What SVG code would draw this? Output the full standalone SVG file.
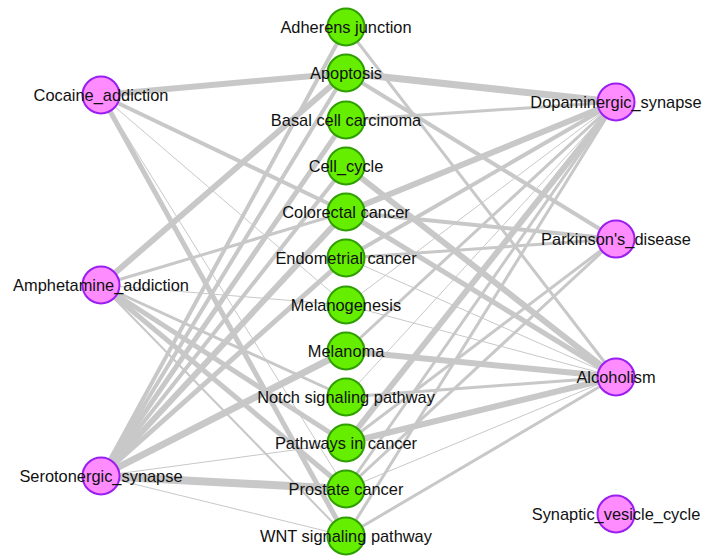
<svg xmlns="http://www.w3.org/2000/svg" width="704" height="556" viewBox="0 0 704 556">
<style>
.e{stroke:#c8c8c8;fill:none;stroke-linecap:butt}
.g circle{fill:#66ee00;stroke:#2f9e00;stroke-width:2}
.p circle{fill:#ff8cff;stroke:#9b1ef0;stroke-width:2}
text{font-family:"Liberation Sans",Arial,sans-serif;font-size:16.4px;fill:#111111;text-anchor:middle}
</style>
<rect width="704" height="556" fill="#ffffff"/>
<g id="edges">
<line class="e" x1="101" y1="95" x2="346" y2="73" stroke-width="6"/>
<line class="e" x1="101" y1="95" x2="346" y2="212" stroke-width="4"/>
<line class="e" x1="101" y1="95" x2="346" y2="305" stroke-width="1"/>
<line class="e" x1="101" y1="95" x2="346" y2="489" stroke-width="1"/>
<line class="e" x1="101" y1="95" x2="346" y2="536" stroke-width="5"/>
<line class="e" x1="101" y1="285" x2="346" y2="73" stroke-width="6"/>
<line class="e" x1="101" y1="285" x2="346" y2="212" stroke-width="3"/>
<line class="e" x1="101" y1="285" x2="346" y2="305" stroke-width="1"/>
<line class="e" x1="101" y1="285" x2="346" y2="397" stroke-width="3"/>
<line class="e" x1="101" y1="285" x2="346" y2="443" stroke-width="5"/>
<line class="e" x1="101" y1="285" x2="346" y2="489" stroke-width="5"/>
<line class="e" x1="101" y1="285" x2="346" y2="536" stroke-width="2"/>
<line class="e" x1="101" y1="476" x2="346" y2="27" stroke-width="4"/>
<line class="e" x1="101" y1="476" x2="346" y2="73" stroke-width="4"/>
<line class="e" x1="101" y1="476" x2="346" y2="120" stroke-width="5"/>
<line class="e" x1="101" y1="476" x2="346" y2="166" stroke-width="4"/>
<line class="e" x1="101" y1="476" x2="346" y2="212" stroke-width="6"/>
<line class="e" x1="101" y1="476" x2="346" y2="258" stroke-width="5"/>
<line class="e" x1="101" y1="476" x2="346" y2="351" stroke-width="7"/>
<line class="e" x1="101" y1="476" x2="346" y2="443" stroke-width="1"/>
<line class="e" x1="101" y1="476" x2="346" y2="489" stroke-width="8"/>
<line class="e" x1="101" y1="476" x2="346" y2="536" stroke-width="1"/>
<line class="e" x1="616" y1="102" x2="346" y2="73" stroke-width="7"/>
<line class="e" x1="616" y1="102" x2="346" y2="120" stroke-width="3"/>
<line class="e" x1="616" y1="102" x2="346" y2="212" stroke-width="6"/>
<line class="e" x1="616" y1="102" x2="346" y2="258" stroke-width="4"/>
<line class="e" x1="616" y1="102" x2="346" y2="305" stroke-width="1"/>
<line class="e" x1="616" y1="102" x2="346" y2="351" stroke-width="3"/>
<line class="e" x1="616" y1="102" x2="346" y2="397" stroke-width="1"/>
<line class="e" x1="616" y1="102" x2="346" y2="443" stroke-width="6"/>
<line class="e" x1="616" y1="102" x2="346" y2="489" stroke-width="3"/>
<line class="e" x1="616" y1="102" x2="346" y2="536" stroke-width="3"/>
<line class="e" x1="616" y1="239" x2="346" y2="73" stroke-width="4"/>
<line class="e" x1="616" y1="239" x2="346" y2="212" stroke-width="4"/>
<line class="e" x1="616" y1="239" x2="346" y2="258" stroke-width="3"/>
<line class="e" x1="616" y1="239" x2="346" y2="443" stroke-width="3"/>
<line class="e" x1="616" y1="239" x2="346" y2="489" stroke-width="3"/>
<line class="e" x1="616" y1="377" x2="346" y2="27" stroke-width="3"/>
<line class="e" x1="616" y1="377" x2="346" y2="166" stroke-width="6"/>
<line class="e" x1="616" y1="377" x2="346" y2="212" stroke-width="5"/>
<line class="e" x1="616" y1="377" x2="346" y2="258" stroke-width="1"/>
<line class="e" x1="616" y1="377" x2="346" y2="305" stroke-width="1"/>
<line class="e" x1="616" y1="377" x2="346" y2="351" stroke-width="6"/>
<line class="e" x1="616" y1="377" x2="346" y2="397" stroke-width="3"/>
<line class="e" x1="616" y1="377" x2="346" y2="443" stroke-width="6"/>
<line class="e" x1="616" y1="377" x2="346" y2="489" stroke-width="1"/>
<line class="e" x1="616" y1="377" x2="346" y2="536" stroke-width="3"/>
</g>
<g id="n-adherens" class="g"><circle cx="346" cy="27" r="18.5"/><text x="346" y="33">Adherens junction</text></g>
<g id="n-apoptosis" class="g"><circle cx="346" cy="73" r="18.5"/><text x="346" y="79">Apoptosis</text></g>
<g id="n-basal" class="g"><circle cx="346" cy="120" r="18.5"/><text x="346" y="126">Basal cell carcinoma</text></g>
<g id="n-cellcycle" class="g"><circle cx="346" cy="166" r="18.5"/><text x="346" y="172">Cell_cycle</text></g>
<g id="n-colorectal" class="g"><circle cx="346" cy="212" r="18.5"/><text x="346" y="218">Colorectal cancer</text></g>
<g id="n-endometrial" class="g"><circle cx="346" cy="258" r="18.5"/><text x="346" y="264">Endometrial cancer</text></g>
<g id="n-melanogenesis" class="g"><circle cx="346" cy="305" r="18.5"/><text x="346" y="311">Melanogenesis</text></g>
<g id="n-melanoma" class="g"><circle cx="346" cy="351" r="18.5"/><text x="346" y="357">Melanoma</text></g>
<g id="n-notch" class="g"><circle cx="346" cy="397" r="18.5"/><text x="346" y="403">Notch signaling pathway</text></g>
<g id="n-pathways" class="g"><circle cx="346" cy="443" r="18.5"/><text x="346" y="449">Pathways in cancer</text></g>
<g id="n-prostate" class="g"><circle cx="346" cy="489" r="18.5"/><text x="346" y="495">Prostate cancer</text></g>
<g id="n-wnt" class="g"><circle cx="346" cy="536" r="18.5"/><text x="346" y="542">WNT signaling pathway</text></g>
<g id="n-cocaine" class="p"><circle cx="101" cy="95" r="18.5"/><text x="101" y="101">Cocaine_addiction</text></g>
<g id="n-amphetamine" class="p"><circle cx="101" cy="285" r="18.5"/><text x="101" y="291">Amphetamine_addiction</text></g>
<g id="n-serotonergic" class="p"><circle cx="101" cy="476" r="18.5"/><text x="101" y="482">Serotonergic_synapse</text></g>
<g id="n-dopaminergic" class="p"><circle cx="616" cy="102" r="18.5"/><text x="616" y="108">Dopaminergic_synapse</text></g>
<g id="n-parkinsons" class="p"><circle cx="616" cy="239" r="18.5"/><text x="616" y="245">Parkinson's_disease</text></g>
<g id="n-alcoholism" class="p"><circle cx="616" cy="377" r="18.5"/><text x="616" y="383">Alcoholism</text></g>
<g id="n-synaptic" class="p"><circle cx="616" cy="514" r="18.5"/><text x="616" y="520">Synaptic_vesicle_cycle</text></g>
</svg>
